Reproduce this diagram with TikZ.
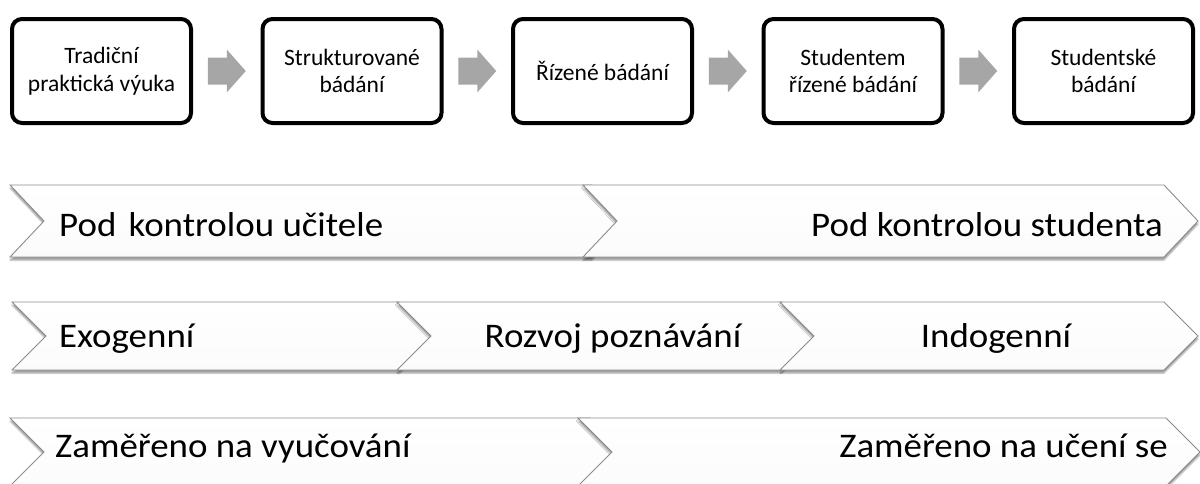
\documentclass[tikz,border=0pt]{standalone}
\usepackage{fontspec}
\setmainfont{Carlito}
\newfontfamily\chevfont[FakeStretch=1.07]{Carlito}
\usetikzlibrary{calc,shadows.blur}
\definecolor{chevline}{HTML}{8C8C8C}
\definecolor{arrgray}{HTML}{A6A6A6}
\begin{document}
\begin{tikzpicture}[x=1pt,y=-1pt,
  stepbox/.style={draw=black,line width=4pt,rounded corners=10pt,minimum width=179pt,minimum height=104pt,align=center,font=\fontsize{23.5}{27.5}\selectfont,inner sep=0pt},
  chev/.style={draw=chevline,line width=0.9pt,top color=white,bottom color=gray!3,
    blur shadow={shadow xshift=0pt,shadow yshift=-3pt,shadow blur steps=4,shadow opacity=40,shadow blur radius=1.5pt}},
  lbl/.style={font=\chevfont\fontsize{34.5}{40}\selectfont,inner sep=0pt},
  garrow/.style={fill=arrgray,draw=none}]
\useasboundingbox (0,0) rectangle (1200,483);
\clip (0,0) rectangle (1200,483);

% top process boxes
\node[stepbox] (b1) at (101.5,71) {Tradiční\\praktická výuka};
\node[stepbox] (b2) at (352,71) {Strukturované\\bádání};
\node[stepbox] (b3) at (602.5,71) {Řízené bádání};
\node[stepbox] (b4) at (853,71) {Studentem\\řízené bádání};
\node[stepbox] (b5) at (1103.5,71) {Studentské\\bádání};

% block arrows between boxes
\foreach \a/\b/\m in {b1/b2/m1,b2/b3/m2,b3/b4/m3,b4/b5/m4}{
  \coordinate (\m) at ($(\a.east)!0.5!(\b.west)$);
  \fill[garrow] (\m) ++(-19,-13.5) -- ++(19,0) -- ++(0,-8) -- ++(19,21.5)
     -- ++(-19,21.5) -- ++(0,-8) -- ++(-19,0) -- cycle;
}

% row 1
\draw[chev] (10,185) -- (592,185) -- (626,221) -- (592,257) -- (10,257) -- (44,221) -- cycle;
\draw[chev] (583,185) -- (1164,185) -- (1198,221) -- (1164,257) -- (583,257) -- (617,221) -- cycle;
\node[lbl,anchor=base west] (r1a) at (59,236) {Pod\hspace{4pt} kontrolou učitele};
\node[lbl,anchor=base east] (r1b) at (1163,236) {Pod kontrolou studenta};

% row 2
\draw[chev] (12,302) -- (400,302) -- (434,336) -- (400,370) -- (12,370) -- (46,336) -- cycle;
\draw[chev] (397,302) -- (782,302) -- (816,336) -- (782,370) -- (397,370) -- (431,336) -- cycle;
\draw[chev] (780,302) -- (1164,302) -- (1198,336) -- (1164,370) -- (780,370) -- (814,336) -- cycle;
\node[lbl,anchor=base west] (r2a) at (59,347) {Exogenní};
\node[lbl,anchor=base] (r2b) at (613,347) {Rozvoj poznávání};
\node[lbl,anchor=base] (r2c) at (996,347) {Indogenní};

% row 3
\draw[chev] (10,418) -- (590,418) -- (624,452) -- (590,486) -- (10,486) -- (44,452) -- cycle;
\draw[chev] (578,418) -- (1166,418) -- (1200,452) -- (1166,486) -- (578,486) -- (612,452) -- cycle;
\node[lbl,anchor=base west] (r3a) at (55,457) {Zaměřeno na vyučování};
\node[lbl,anchor=base east] (r3b) at (1168,457) {Zaměřeno na učení se};
\end{tikzpicture}
\end{document}
